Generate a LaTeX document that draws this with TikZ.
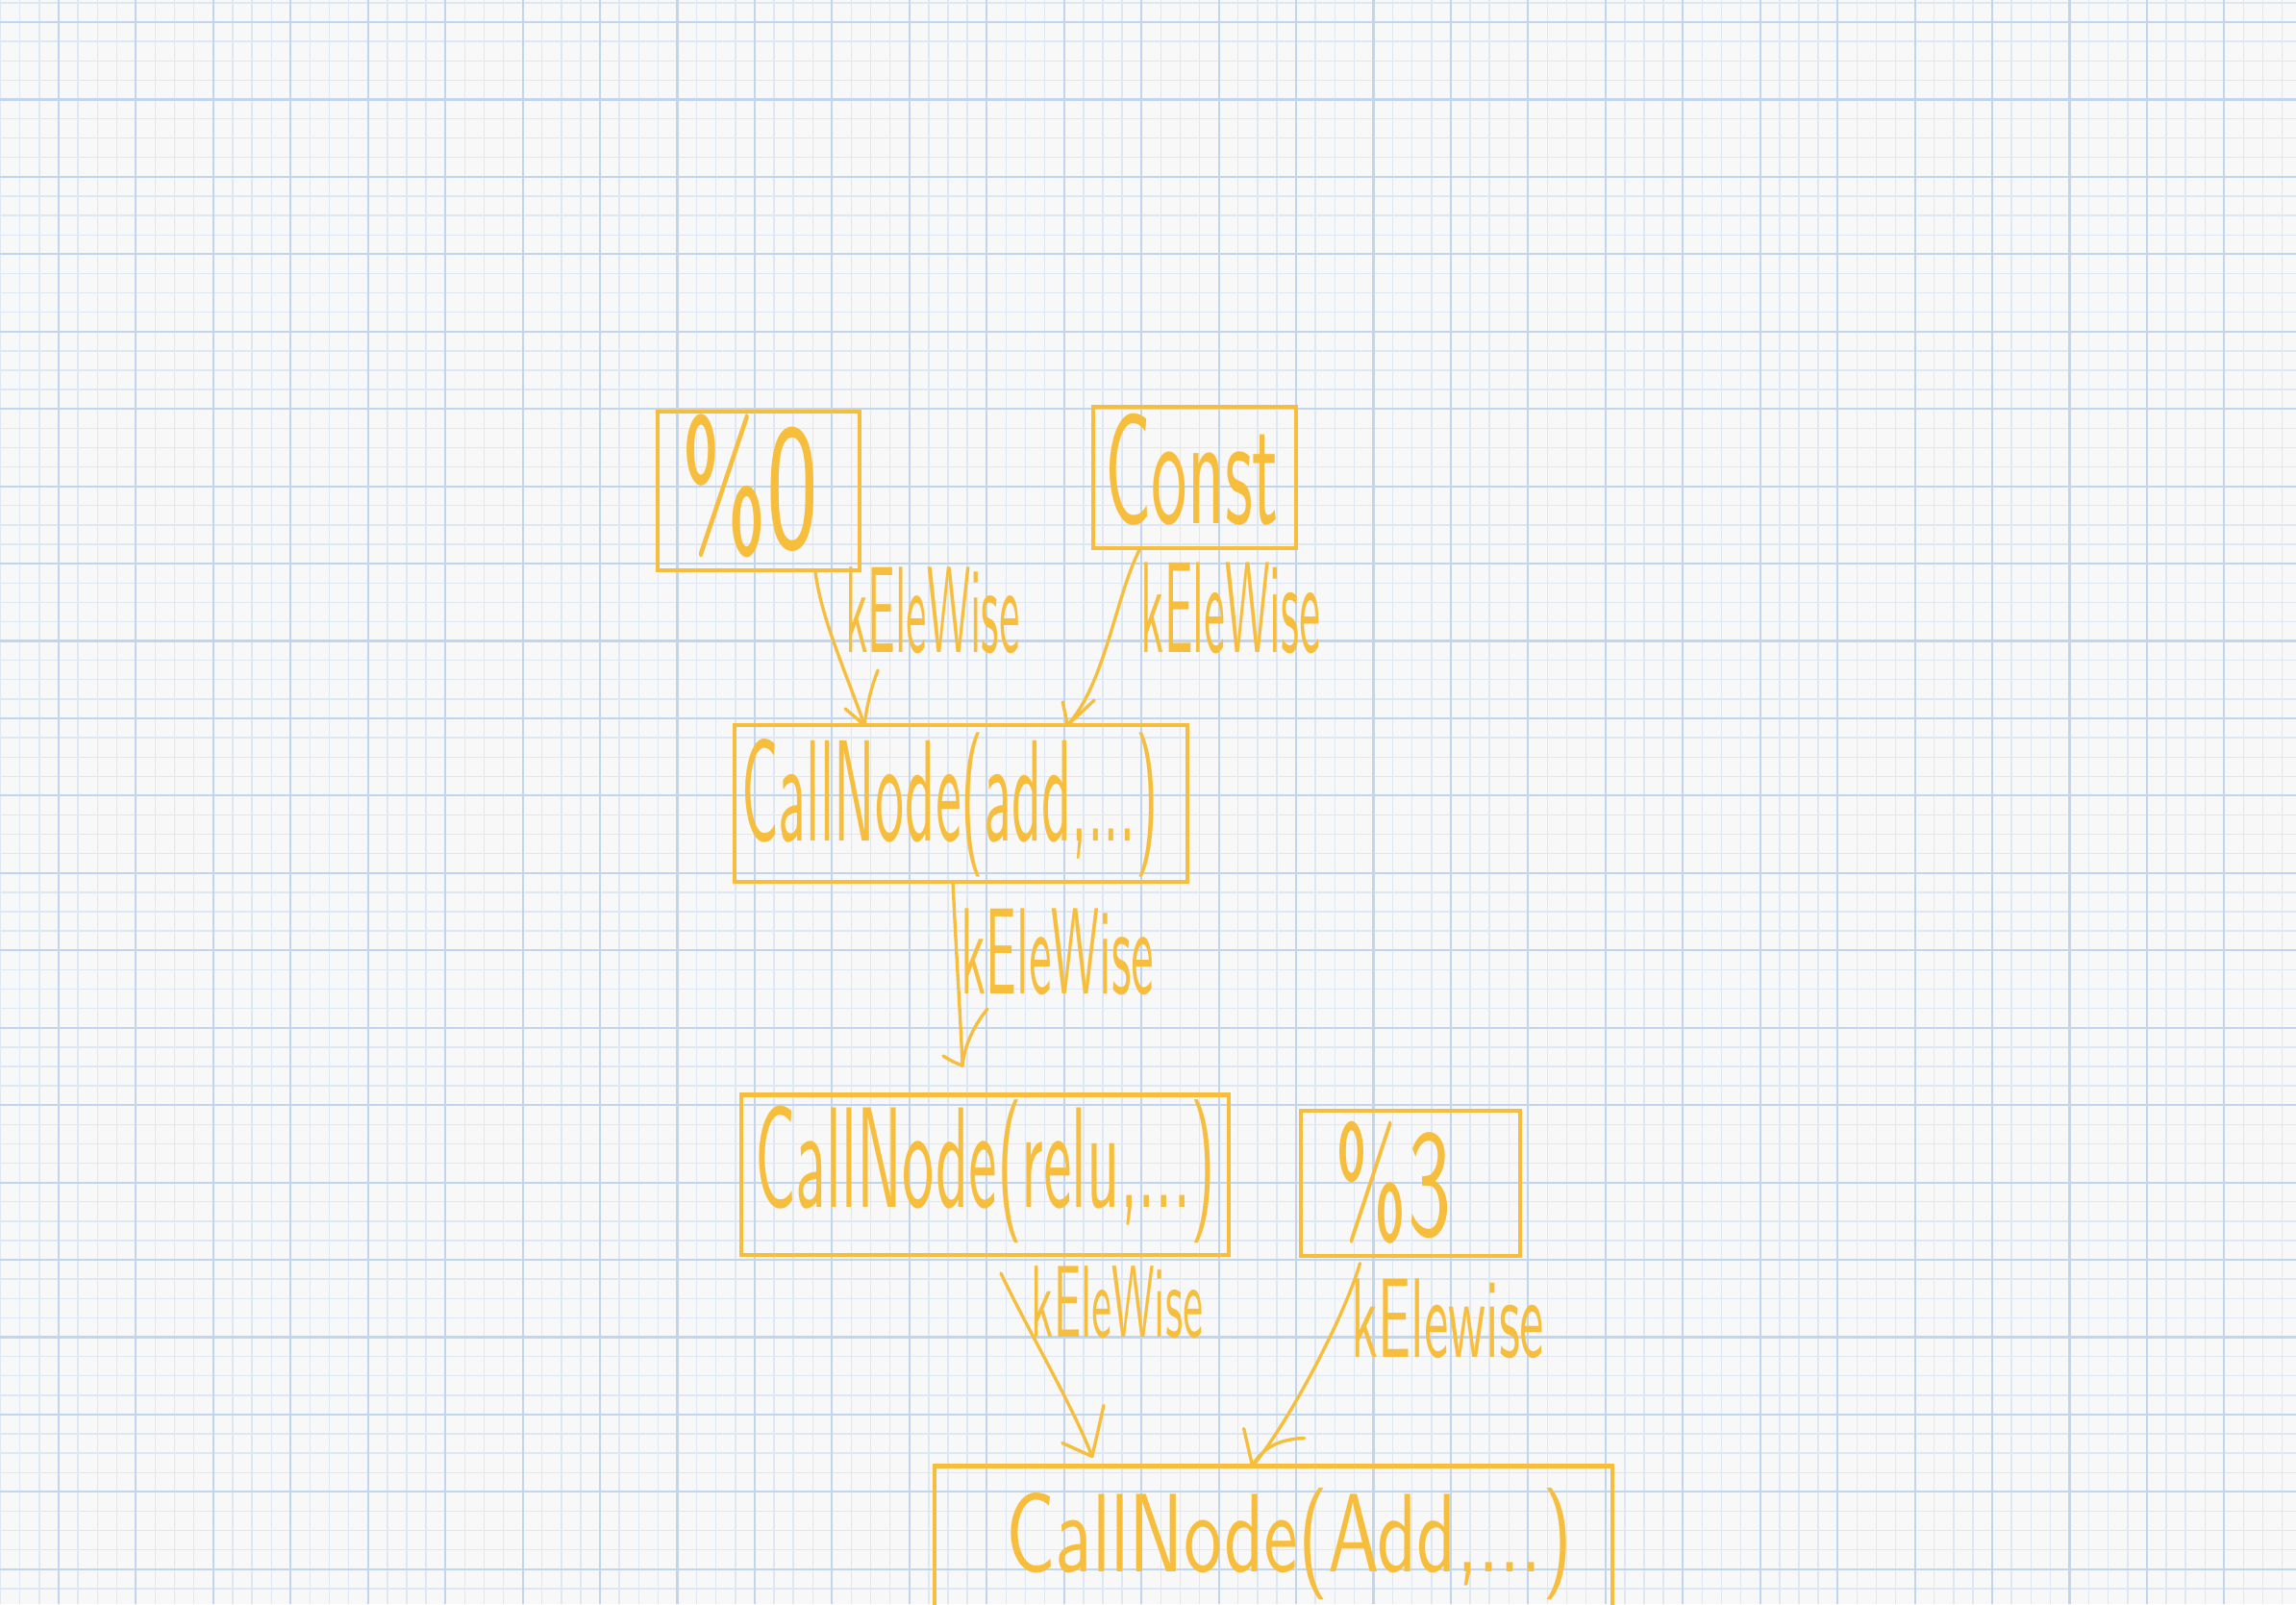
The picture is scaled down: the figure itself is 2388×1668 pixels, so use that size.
\documentclass[tikz,border=0pt]{standalone}
\usepackage{graphicx}
\usetikzlibrary{calc}
\definecolor{paper}{RGB}{248,248,248}
\definecolor{gridminor}{RGB}{222,232,244}
\definecolor{gridmajor}{RGB}{192,214,238}
\definecolor{ink}{RGB}{246,190,60}
\tikzset{
  minorline/.style={draw=gridminor, line width=0.4pt},
  majorline/.style={draw=gridmajor, line width=0.6pt},
  box/.style={draw=ink, line width=1.15pt, rectangle, inner sep=0pt, outer sep=0pt},
  hw/.style={text=ink, inner sep=0pt, font=\sffamily},
  edge/.style={draw=ink, line width=0.95pt, line cap=round, line join=round},
}
\begin{document}
\begin{tikzpicture}[x=0.01cm,y=-0.01cm]
\useasboundingbox (0,0) rectangle (2388,1668);
\clip (0,0) rectangle (2388,1668);
\fill[paper] (0,0) rectangle (2388,1668);
% grid paper
\foreach \i in {0,...,118} {\draw[minorline] ({0.67+20.11*\i},0) -- ++(0,1668);}
\foreach \i in {0,...,82} {\draw[minorline] (0,{2.89+20.11*\i}) -- ++(2388,0);}
\foreach \i in {0,...,29} {\draw[majorline] ({61+80.44*\i},0) -- ++(0,1668);}
\foreach \i in {0,...,20} {\draw[majorline] (0,{23+80.44*\i}) -- ++(2388,0);}

% boxes
\node[box, minimum width=2.10cm, minimum height=1.65cm] (n0) at (789,510.5) {};
\node[box, minimum width=2.11cm, minimum height=1.47cm] (n1) at (1242.5,496.5) {};
\node[box, minimum width=4.71cm, minimum height=1.63cm] (n2) at (999.5,835.5) {};
\node[box, minimum width=5.064cm, minimum height=1.665cm] (n3) at (1024.8,1221.75) {};
\node[box, minimum width=2.28cm, minimum height=1.505cm] (n4) at (1467,1230.25) {};
\node[box, minimum width=7.045cm, minimum height=1.75cm] (n5) at (1324.75,1612) {};

% box texts
\node[hw] (t0) at (780,505) {\resizebox*{1.43cm}{1.49cm}{\%0}};
\node[hw] (t1) at (1240,488) {\resizebox*{1.80cm}{1.16cm}{Const}};
\node[hw] (t2) at (988,837) {\resizebox*{4.33cm}{1.50cm}{CallNode(add,...)}};
\node[hw] (t3) at (1025,1218) {\resizebox*{4.79cm}{1.49cm}{CallNode(relu,...)}};
\node[hw] (t4) at (1449,1230) {\resizebox*{1.20cm}{1.27cm}{\%3}};
\node[hw] (t5) at (1341,1605) {\resizebox*{5.88cm}{1.16cm}{CallNode(Add,...)}};

% edge labels
\node[hw] (l1) at (970,635) {\resizebox*{1.81cm}{0.90cm}{kEleWise}};
\node[hw] (l2) at (1280,632) {\resizebox*{1.86cm}{0.95cm}{kEleWise}};
\node[hw] (l3) at (1100,990) {\resizebox*{2.00cm}{0.90cm}{kEleWise}};
\node[hw] (l4) at (1162,1354) {\resizebox*{1.78cm}{0.75cm}{kEleWise}};
\node[hw] (l5) at (1506,1371) {\resizebox*{2.00cm}{0.83cm}{kElewise}};

% connector end points
\coordinate (a1s) at ($(n0.south west)!0.78!(n0.south east)$);
\coordinate (a1e) at ($(n2.north west)!0.287!(n2.north east)$);
\coordinate (a2s) at ($(n1.south west)!0.232!(n1.south east)$);
\coordinate (a2e) at ($(n2.north west)!0.735!(n2.north east)$);
\coordinate (a3s) at ($(n2.south west)!0.482!(n2.south east)$);
\coordinate (a3e) at ($(a3s)+(10,191)$);
\coordinate (a4s) at ($(n3.south west)!0.532!(n3.south east)+(0,19)$);
\coordinate (a4e) at ($(n5.north west)!0.232!(n5.north east)+(0,-10)$);
\coordinate (a5s) at ($(n4.south west)!0.27!(n4.south east)+(0,8)$);
\coordinate (a5e) at ($(n5.north west)!0.4686!(n5.north east)$);

% arrow 1: %0 -> CallNode(add)
\draw[edge] (a1s) .. controls (853,640) and (880,700) .. (a1e);
\draw[edge] ($(a1e)+(-20,-17)$) -- (a1e);
\draw[edge] ($(a1e)+(14,-57)$) .. controls ($(a1e)+(6,-37)$) and ($(a1e)+(2,-17)$) .. (a1e);

% arrow 2: Const -> CallNode(add)
\draw[edge] (a2s) .. controls (1160,620) and (1150,710) .. (a2e);
\draw[edge] ($(a2e)+(-5,-24)$) -- (a2e);
\draw[edge] ($(a2e)+(28,-26)$) -- (a2e);

% arrow 3: CallNode(add) -> CallNode(relu)
\draw[edge] (a3s) .. controls (995,1000) and (999,1060) .. (a3e);
\draw[edge] ($(a3e)+(-20,-10)$) .. controls ($(a3e)+(-10,-4)$) .. (a3e);
\draw[edge] ($(a3e)+(26,-59)$) .. controls ($(a3e)+(9,-38)$) and ($(a3e)+(2,-18)$) .. (a3e);

% arrow 4: CallNode(relu) -> CallNode(Add)
\draw[edge] (a4s) .. controls (1070,1385) and (1115,1460) .. (a4e);
\draw[edge] ($(a4e)+(-31,-14)$) -- (a4e);
\draw[edge] ($(a4e)+(12,-53)$) .. controls ($(a4e)+(7,-30)$) .. (a4e);

% arrow 5: %3 -> CallNode(Add)
\draw[edge] (a5s) .. controls (1398,1370) and (1340,1480) .. (a5e);
\draw[edge] ($(a5e)+(-9,-39)$) -- (a5e);
\draw[edge] ($(a5e)+(54,-29)$) .. controls ($(a5e)+(20,-28)$) and ($(a5e)+(6,-12)$) .. (a5e);
\end{tikzpicture}
\end{document}
